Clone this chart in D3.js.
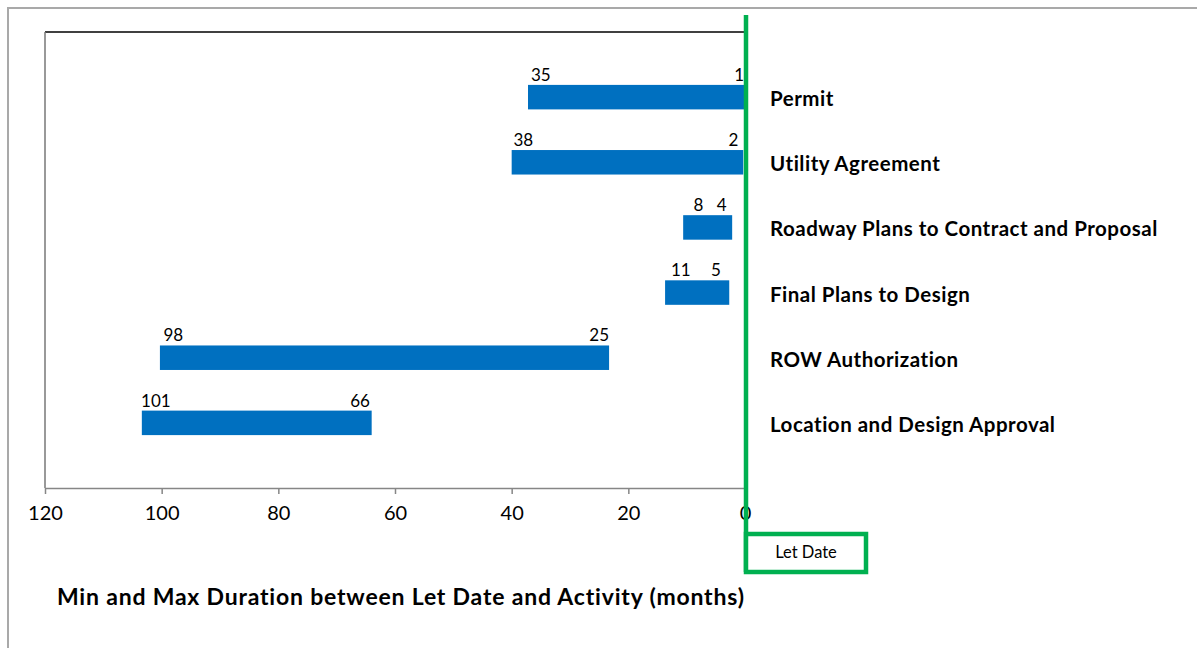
<!DOCTYPE html>
<html>
<head>
<meta charset="utf-8">
<script src="https://cdn.jsdelivr.net/npm/d3@7"></script>
<style>
    body { margin: 0; background: #fff; }
    text { font-family: Lato, "Open Sans", sans-serif; fill: #000; }
</style>
</head>
<body>
<svg id="chart"></svg>
<script>
// activities, top to bottom
const activities = ["Permit", "Utility Agreement", "Roadway Plans to Contract and Proposal",
    "Final Plans to Design", "ROW Authorization", "Location and Design Approval"];
// label values (months before let date)
const maxMonths = [35, 38, 8, 11, 98, 101];
const minMonths = [1, 2, 4, 5, 25, 66];
// bar ends as drawn in the picture (months)
const barFar = [37.2, 40, 10.6, 13.7, 100.3, 103.4];
const barNear = [0, 0.3, 2.2, 2.7, 23.3, 64];
const xTicks = [120, 100, 80, 60, 40, 20, 0];
const xTitle = "Min and Max Duration between Let Date and Activity (months)";
const markerText = "Let Date";

class RangeChart {
    plot = {
        top: 32, right: 745, bottom: 488, left: 45
    }

    constructor(svg, width = 1197, height = 648) {
        this.svg = d3.select(svg);
        this.width = width;
        this.height = height;
    }

    initialize() {
        this.svg.attr("width", this.width).attr("height", this.height);

        this.data = activities.map((d, i) => ({
            name: d, max: maxMonths[i], min: minMonths[i], far: barFar[i], near: barNear[i]
        }));

        this.xScale = d3.scaleLinear().domain([120, 0]).range([this.plot.left, this.plot.right]);
        const step = (this.plot.bottom - this.plot.top) / (activities.length + 1);
        this.yScale = d3.scalePoint().domain(activities)
            .range([this.plot.top + step, this.plot.bottom - step]);
        this.barHeight = 24.5;
    }

    render() {
        const p = this.plot;

        // outer frame
        this.svg.append("rect")
            .attr("x", 8).attr("y", 8)
            .attr("width", this.width + 20).attr("height", this.height + 20)
            .attr("fill", "none").attr("stroke", "#a9a9a9").attr("stroke-width", 2);

        // plot frame: top and left
        this.svg.append("line")
            .attr("x1", p.left).attr("x2", p.right).attr("y1", p.top).attr("y2", p.top)
            .attr("stroke", "#000").attr("stroke-width", 1.5);
        this.svg.append("line")
            .attr("x1", p.left).attr("x2", p.left).attr("y1", p.top).attr("y2", p.bottom)
            .attr("stroke", "#777").attr("stroke-width", 1.5);

        const xAxis = this.svg.append("g")
            .attr("transform", `translate(0, ${p.bottom})`)
            .call(d3.axisBottom(this.xScale).tickValues(xTicks).tickSize(6).tickSizeOuter(0).tickPadding(12));
        xAxis.select(".domain").attr("stroke", "#868686").attr("stroke-width", 1.5);
        xAxis.selectAll(".tick line").attr("stroke", "#868686").attr("stroke-width", 1.5);
        xAxis.selectAll(".tick text")
            .style("font-family", "Lato, sans-serif")
            .style("font-size", "20px")
            .attr("fill", "#000");

        const rows = this.svg.append("g").selectAll("g")
            .data(this.data)
            .join("g");

        rows.append("rect")
            .attr("x", d => this.xScale(d.far))
            .attr("y", d => this.yScale(d.name) - this.barHeight / 2)
            .attr("width", d => this.xScale(d.near) - this.xScale(d.far))
            .attr("height", this.barHeight)
            .attr("fill", "#0070c0");

        rows.append("text")
            .attr("x", d => this.xScale(d.max))
            .attr("y", d => this.yScale(d.name) - this.barHeight / 2 - 4)
            .attr("text-anchor", "middle")
            .style("font-size", "17px")
            .text(d => d.max);

        rows.append("text")
            .attr("x", d => this.xScale(d.min))
            .attr("y", d => this.yScale(d.name) - this.barHeight / 2 - 4)
            .attr("text-anchor", "middle")
            .style("font-size", "17px")
            .text(d => d.min);

        rows.append("text")
            .attr("x", 770)
            .attr("y", d => this.yScale(d.name) + 9)
            .style("font-size", "20.5px")
            .style("letter-spacing", "0.5px")
            .style("font-weight", "bold")
            .text(d => d.name);

        this.svg.append("text")
            .attr("x", 57).attr("y", 605)
            .style("font-size", "23px")
            .style("letter-spacing", "0.8px")
            .style("font-weight", "bold")
            .text(xTitle);

        // let date marker
        const x0 = this.xScale(0) + 1;
        this.svg.append("line")
            .attr("x1", x0).attr("x2", x0).attr("y1", 15).attr("y2", 572)
            .attr("stroke", "#00b050").attr("stroke-width", 4.5);
        this.svg.append("rect")
            .attr("x", x0).attr("y", 534)
            .attr("width", 120).attr("height", 38)
            .attr("fill", "#fff")
            .attr("stroke", "#00b050").attr("stroke-width", 4.5);
        this.svg.append("text")
            .attr("x", x0 + 60).attr("y", 558)
            .attr("text-anchor", "middle")
            .style("font-size", "16.5px")
            .text(markerText);
    }
}

const chart = new RangeChart("#chart");
chart.initialize();
chart.render();
</script>
</body>
</html>
